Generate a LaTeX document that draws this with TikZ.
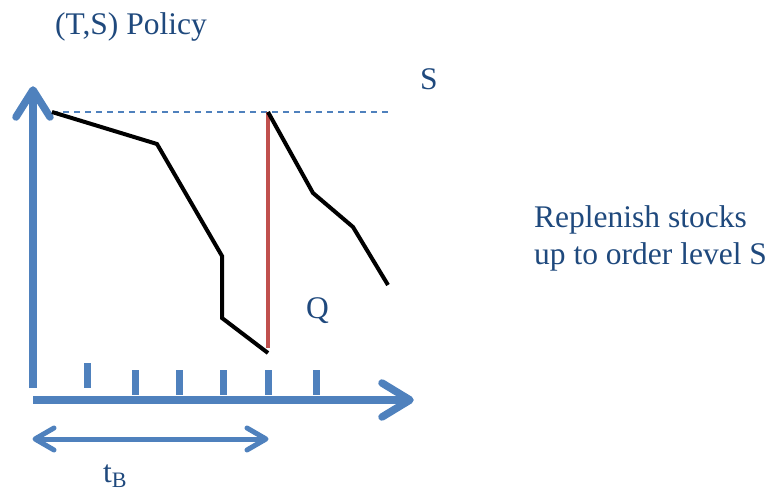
\documentclass[tikz,border=0pt]{standalone}
\usepackage{fontspec}
\setmainfont{Liberation Serif}
\definecolor{axisblue}{HTML}{4F81BD}
\definecolor{textblue}{HTML}{1F497D}
\definecolor{redline}{HTML}{C0504D}
\begin{document}
\begin{tikzpicture}[x=1pt,y=-1pt,
  axis/.style={axisblue,line width=7.5pt},
  head/.style={axisblue,line width=7.5pt,line cap=round,line join=round},
  dim/.style={axisblue,line width=5pt},
  dimhead/.style={axisblue,line width=5pt,line cap=round,line join=round},
  tick/.style={axisblue,line width=7pt},
  stock/.style={black,line width=4pt,line join=miter},
  lbl/.style={textblue,font=\fontsize{31.5}{38}\selectfont,inner sep=0pt}]
\useasboundingbox (0,0) rectangle (772,492);
% axes
\coordinate (o) at (33,400);
\coordinate (ytip) at (33,90);
\coordinate (xtip) at (410,400);
\draw[axis] (33,388) -- (ytip);
\draw[head] (16,117) -- (ytip) -- (50,117);
\draw[axis] (o) -- (xtip);
\draw[head] (382,383) -- (xtip) -- (382,417);
% ticks
\foreach \x/\t in {87/363,135/370,179/370,223/370,268/370,316/370}
  \draw[tick] (\x,\t) -- (\x,\t+25);
% tB arrow
\coordinate (da) at (35,439);
\coordinate (db) at (266,439);
\draw[dim] (da) -- (db);
\draw[dimhead] (54,428) -- (da) -- (54,450);
\draw[dimhead] (247,428) -- (db) -- (247,450);
\node[lbl,anchor=base west] (tb) at (103,482) {t\textsubscript{B}};
% S level
\draw[axisblue,line width=1.2pt,dash pattern=on 6pt off 5pt] (52,112) -- (388,112);
% stock lines
\draw[stock] (52,112) -- (157,144) -- (222,256) -- (222,318) -- (268,353);
\draw[redline,line width=3.5pt] (268,112) -- (268,348);
\draw[stock] (268,112) -- (313,193) -- (353,227) -- (388,285);
% labels
\node[lbl,anchor=base west] (title) at (55,35) {(T,S) Policy};
\node[lbl,anchor=base west] (s) at (420,90) {S};
\node[lbl,anchor=base west] (q) at (306,318) {Q};
\node[lbl,anchor=base west,align=left] (r1) at (534,228) {Replenish stocks};
\node[lbl,anchor=base west,align=left] (r2) at (534,265) {up to order level S};
\end{tikzpicture}
\end{document}
